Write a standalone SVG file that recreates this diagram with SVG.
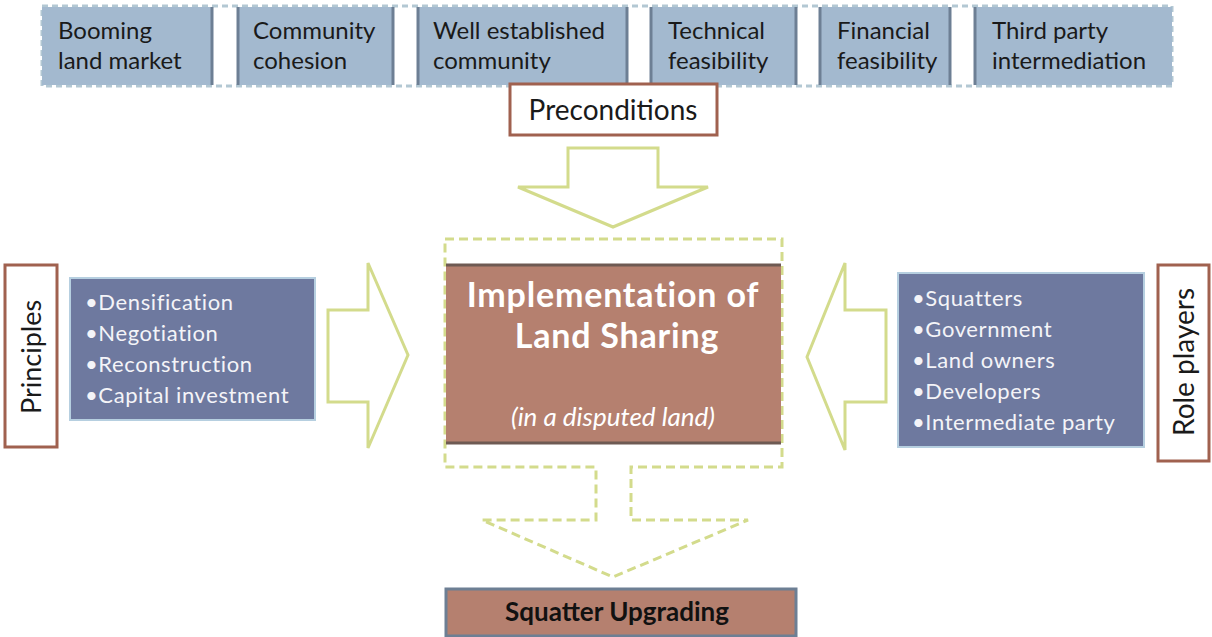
<svg xmlns="http://www.w3.org/2000/svg" width="1212" height="637" viewBox="0 0 1212 637">
<style>
.pre{fill:#a3b9cf;stroke:none}
.side{stroke:#6d7f94;stroke-width:3}
.t{font-family:Lato,"Open Sans",sans-serif;font-size:24px;fill:#1a1a1a}
.w{font-family:Lato,"Open Sans",sans-serif;font-size:22px;letter-spacing:0.6px;fill:#f4f4f8}
.lab{fill:#fff;stroke:#a0614f;stroke-width:3}
.arr{fill:#fff;stroke:#d3db8c;stroke-width:3;stroke-linejoin:miter}
.list{fill:#6e799f;stroke:#b6cfe0;stroke-width:2}
</style>
<rect width="1212" height="637" fill="#fff"/>
<g id="preconditions-band">
<rect x="42" y="6" width="1130" height="80" fill="none" stroke="#b3c8d3" stroke-width="3" stroke-dasharray="6 4"/>
</g>
<g id="p1"><rect class="pre" x="42" y="7" width="171" height="78"/><line class="side" x1="212" y1="7" x2="212" y2="85"/><text class="t" x="58" y="39">Booming</text><text class="t" x="58" y="69">land market</text></g>
<g id="p2"><rect class="pre" x="237" y="7" width="157" height="78"/><line class="side" x1="238" y1="7" x2="238" y2="85"/><line class="side" x1="393" y1="7" x2="393" y2="85"/><text class="t" x="253" y="39">Community</text><text class="t" x="253" y="69">cohesion</text></g>
<g id="p3"><rect class="pre" x="417" y="7" width="211" height="78"/><line class="side" x1="418" y1="7" x2="418" y2="85"/><line class="side" x1="627" y1="7" x2="627" y2="85"/><text class="t" x="433" y="39">Well established</text><text class="t" x="433" y="69">community</text></g>
<g id="p4"><rect class="pre" x="650" y="7" width="147" height="78"/><line class="side" x1="651" y1="7" x2="651" y2="85"/><line class="side" x1="796" y1="7" x2="796" y2="85"/><text class="t" x="668" y="39">Technical</text><text class="t" x="668" y="69">feasibility</text></g>
<g id="p5"><rect class="pre" x="819" y="7" width="132" height="78"/><line class="side" x1="820" y1="7" x2="820" y2="85"/><line class="side" x1="950" y1="7" x2="950" y2="85"/><text class="t" x="837" y="39">Financial</text><text class="t" x="837" y="69">feasibility</text></g>
<g id="p6"><rect class="pre" x="974" y="7" width="198" height="78"/><line class="side" x1="975" y1="7" x2="975" y2="85"/><text class="t" x="992" y="39">Third party</text><text class="t" x="992" y="69">intermediation</text></g>
<g id="preconditions-label"><rect class="lab" x="510" y="84" width="207" height="51"/><text class="t" x="613" y="120" text-anchor="middle" style="font-size:28px">Preconditions</text></g>
<g id="connectors">
<polygon class="arr" points="568,148 658,148 658,187 708,187 613,227 518,187 568,187"/>
<polygon class="arr" points="328,310 368,310 368,263 408,355 368,448 368,402 328,402"/>
<polygon class="arr" points="886,310 845,310 845,263 807,357 845,450 845,402 886,402"/>
<path d="M445,239 H782 V467 H631 V520 H748 L613,577 L482,520 H596 V467 H445 Z" fill="none" stroke="#d3db8c" stroke-width="3" stroke-dasharray="9 5"/>
</g>
<g id="principles-label"><rect class="lab" x="5" y="265" width="52" height="182"/><text class="t" transform="translate(41,357) rotate(-90)" text-anchor="middle" style="font-size:27px">Principles</text></g>
<g id="principles-list"><rect class="list" x="70" y="278" width="245" height="142"/>
<text class="w" x="85" y="310">•Densification</text><text class="w" x="85" y="341">•Negotiation</text><text class="w" x="85" y="372">•Reconstruction</text><text class="w" x="85" y="403">•Capital investment</text></g>
<g id="center"><rect x="446" y="265" width="335" height="178" fill="#b5806f"/>
<line x1="446" y1="265" x2="781" y2="265" stroke="#6e5a53" stroke-width="3"/><line x1="446" y1="443" x2="781" y2="443" stroke="#6e5a53" stroke-width="3"/>
<text x="613" y="307" text-anchor="middle" font-family="Lato,'Open Sans',sans-serif" font-weight="bold" font-size="34" letter-spacing="0.8" fill="#fff">Implementation of</text>
<text x="617" y="348" text-anchor="middle" font-family="Lato,'Open Sans',sans-serif" font-weight="bold" font-size="34" letter-spacing="0.8" fill="#fff">Land Sharing</text>
<text x="613" y="426" text-anchor="middle" font-family="Lato,'Open Sans',sans-serif" font-style="italic" font-size="26" fill="#fff">(in a disputed land)</text></g>
<g id="role-list"><rect class="list" x="898" y="273" width="246" height="174"/>
<text class="w" x="912" y="306">•Squatters</text><text class="w" x="912" y="337">•Government</text><text class="w" x="912" y="368">•Land owners</text><text class="w" x="912" y="399">•Developers</text><text class="w" x="912" y="430">•Intermediate party</text></g>
<g id="role-label"><rect class="lab" x="1158" y="265" width="51" height="196"/><text class="t" transform="translate(1194,362) rotate(-90)" text-anchor="middle" style="font-size:28px">Role players</text></g>
<g id="outcome"><rect x="446" y="589" width="350" height="47" fill="#b5806f" stroke="#6d7f94" stroke-width="3"/><text x="617" y="621" text-anchor="middle" font-family="Lato,'Open Sans',sans-serif" font-weight="bold" font-size="26" fill="#111">Squatter Upgrading</text></g>
</svg>
